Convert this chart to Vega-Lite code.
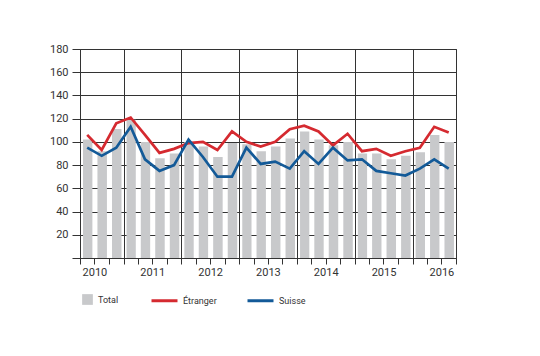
{
  "$schema": "https://vega.github.io/schema/vega-lite/v6.json",
  "width": 376,
  "height": 209,
  "autosize": {"type": "none"},
  "padding": {"left": 80, "top": 49, "right": 84, "bottom": 98},
  "background": "white",
  "config": {
    "font": "Roboto",
    "view": {"stroke": "#333333", "strokeWidth": 1},
    "axis": {"labelFont": "Roboto", "labelColor": "#333333", "domainColor": "#333333", "tickColor": "#333333", "gridColor": "#333333", "gridWidth": 1, "tickWidth": 1, "domainWidth": 1},
    "legend": {"labelFont": "Roboto", "labelColor": "#333333"}
  },
  "data": {
    "values": [
      {"date": "2010-05-15", "Total": 102, "Étranger": 106, "Suisse": 95},
      {"date": "2010-08-15", "Total": 92, "Étranger": 93, "Suisse": 88},
      {"date": "2010-11-15", "Total": 111, "Étranger": 116, "Suisse": 95},
      {"date": "2011-02-15", "Total": 119, "Étranger": 121, "Suisse": 113},
      {"date": "2011-05-15", "Total": 100, "Étranger": 106, "Suisse": 85},
      {"date": "2011-08-15", "Total": 86, "Étranger": 90.5, "Suisse": 75},
      {"date": "2011-11-15", "Total": 90, "Étranger": 94, "Suisse": 80},
      {"date": "2012-02-15", "Total": 100, "Étranger": 99, "Suisse": 102},
      {"date": "2012-05-15", "Total": 96, "Étranger": 100, "Suisse": 87},
      {"date": "2012-08-15", "Total": 87, "Étranger": 93, "Suisse": 70},
      {"date": "2012-11-15", "Total": 99, "Étranger": 109, "Suisse": 70},
      {"date": "2013-02-15", "Total": 98, "Étranger": 100, "Suisse": 95},
      {"date": "2013-05-15", "Total": 92, "Étranger": 96, "Suisse": 81},
      {"date": "2013-08-15", "Total": 96, "Étranger": 100, "Suisse": 83},
      {"date": "2013-11-15", "Total": 103, "Étranger": 111, "Suisse": 77},
      {"date": "2014-02-15", "Total": 109, "Étranger": 114, "Suisse": 92},
      {"date": "2014-05-15", "Total": 102, "Étranger": 109, "Suisse": 81},
      {"date": "2014-08-15", "Total": 97, "Étranger": 97, "Suisse": 95},
      {"date": "2014-11-15", "Total": 100, "Étranger": 107, "Suisse": 84},
      {"date": "2015-02-15", "Total": 90, "Étranger": 92, "Suisse": 85},
      {"date": "2015-05-15", "Total": 90, "Étranger": 94, "Suisse": 75},
      {"date": "2015-08-15", "Total": 85, "Étranger": 88, "Suisse": 73},
      {"date": "2015-11-15", "Total": 88, "Étranger": 92, "Suisse": 71},
      {"date": "2016-02-15", "Total": 91, "Étranger": 95, "Suisse": 77},
      {"date": "2016-05-15", "Total": 106, "Étranger": 113, "Suisse": 85},
      {"date": "2016-08-15", "Total": 100, "Étranger": 108, "Suisse": 77}
    ]
  },
  "layer": [
    {
      "mark": {"type": "bar", "width": {"band": 0.72}},
      "encoding": {
        "x": {
          "field": "date", "timeUnit": "yearquarter", "type": "temporal",
          "scale": {"domain": [{"year": 2010, "month": 4, "date": 1}, {"year": 2016, "month": 10, "date": 1}]},
          "axis": {
            "title": null,
            "tickCount": {"interval": "month", "step": 3},
            "grid": true,
            "gridOpacity": {"condition": {"test": "month(datum.value) == 0 || (year(datum.value) == 2016 && month(datum.value) == 9)", "value": 1}, "value": 0},
            "labelExpr": "month(datum.value) == 6 ? timeFormat(datum.value, '%Y') : ''",
            "labelOverlap": false,
            "labelFlush": false,
            "labelBound": false,
            "tickSize": 6,
            "labelPadding": 2,
            "labelFontSize": 11
          }
        },
        "y": {
          "field": "Total", "type": "quantitative",
          "scale": {"domain": [0, 180], "nice": false},
          "axis": {
            "title": null,
            "values": [0, 20, 40, 60, 80, 100, 120, 140, 160, 180],
            "grid": true,
            "tickSize": 8,
            "labelPadding": 4,
            "labelFontSize": 11,
            "labelOverlap": false,
            "labelExpr": "datum.value == 0 ? '' : datum.label"
          }
        },
        "fill": {
          "datum": "Total",
          "scale": {"domain": ["Total"], "range": ["#c8c9cb"]},
          "legend": {
            "orient": "none", "legendX": 2, "legendY": 245, "direction": "horizontal",
            "title": null, "symbolType": "square", "symbolSize": 115,
            "symbolStrokeWidth": 0, "labelFontSize": 9, "labelOffset": 5, "padding": 0
          }
        }
      }
    },
    {
      "transform": [{"fold": ["Étranger", "Suisse"], "as": ["serie", "valeur"]}],
      "mark": {"type": "line", "strokeWidth": 2.7, "strokeJoin": "miter"},
      "encoding": {
        "x": {
          "field": "date", "timeUnit": "yearquarter", "type": "temporal", "bandPosition": 0.5,
          "scale": {"domain": [{"year": 2010, "month": 4, "date": 1}, {"year": 2016, "month": 10, "date": 1}]},
          "axis": {
            "title": null,
            "tickCount": {"interval": "month", "step": 3},
            "grid": true,
            "gridOpacity": {"condition": {"test": "month(datum.value) == 0 || (year(datum.value) == 2016 && month(datum.value) == 9)", "value": 1}, "value": 0},
            "labelExpr": "month(datum.value) == 6 ? timeFormat(datum.value, '%Y') : ''",
            "labelOverlap": false,
            "labelFlush": false,
            "labelBound": false,
            "tickSize": 6,
            "labelPadding": 2,
            "labelFontSize": 11
          }
        },
        "y": {
          "field": "valeur", "type": "quantitative",
          "scale": {"domain": [0, 180], "nice": false},
          "axis": {
            "title": null,
            "values": [0, 20, 40, 60, 80, 100, 120, 140, 160, 180],
            "grid": true,
            "tickSize": 8,
            "labelPadding": 4,
            "labelFontSize": 11,
            "labelOverlap": false,
            "labelExpr": "datum.value == 0 ? '' : datum.label"
          }
        },
        "stroke": {
          "field": "serie", "type": "nominal",
          "scale": {"domain": ["Étranger", "Suisse"], "range": ["#d52a30", "#135a98"]},
          "legend": {
            "orient": "none", "legendX": 70, "legendY": 237, "direction": "horizontal",
            "title": null, "symbolType": "stroke", "symbolSize": 676, "symbolStrokeWidth": 3,
            "labelFontSize": 9, "labelOffset": 4, "columnPadding": 24, "padding": 0
          }
        }
      }
    }
  ]
}
